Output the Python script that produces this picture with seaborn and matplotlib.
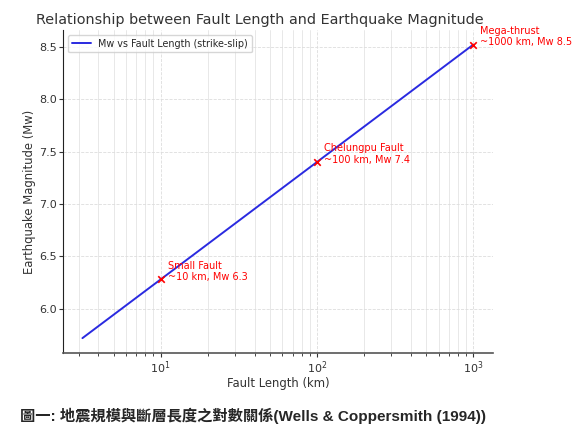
import numpy as np
import pandas as pd
import seaborn as sns
import matplotlib.pyplot as plt

# Data
fault_length_km = [3.16, 10, 100, 1000]
magnitude_mw = [5.72, 6.28, 7.40, 8.52]

event_names = ['Small Fault', 'Chelungpu Fault', 'Mega-thrust']
event_length_km = [10, 100, 1000]
event_mw = [6.28, 7.40, 8.52]
event_labels = ['~10 km, Mw 6.3', '~100 km, Mw 7.4', '~1000 km, Mw 8.5']

df = pd.DataFrame({'Length': fault_length_km, 'Mw': magnitude_mw})
events = pd.DataFrame({'Length': event_length_km, 'Mw': event_mw})

sns.set_style('ticks')
plt.rcParams['font.family'] = ['DejaVu Sans', 'Noto Sans CJK TC']

fig = plt.figure(figsize=(5.77, 4.41), dpi=100)
ax = fig.add_axes([0.109, 0.200, 0.745, 0.732])

sns.lineplot(data=df, x='Length', y='Mw', color='#2a2ae0', linewidth=1.4,
             label='Mw vs Fault Length (strike-slip)', ax=ax)
sns.scatterplot(data=events, x='Length', y='Mw', color='red', marker='x',
                s=22, linewidth=1.2, zorder=5, ax=ax)
ax.set_xscale('log')

for name, L, mw, lab in zip(event_names, event_length_km, event_mw, event_labels):
    ax.annotate(f'{name}\n{lab}', (L, mw), xytext=(5, -2), textcoords='offset points',
                color='red', fontsize=7, ha='left', va='bottom', annotation_clip=False)

ax.grid(True, which='major', linestyle='--', linewidth=0.6, color='#dddddd')
ax.grid(True, which='minor', axis='x', linestyle='-', linewidth=0.6, color='#e4e4e4')
ax.set_axisbelow(True)

ax.set_title('Relationship between Fault Length and Earthquake Magnitude',
             fontsize=10.4, color='#333333', x=0.458, pad=4)
ax.set_xlabel('Fault Length (km)', fontsize=8.4, color='#333333', labelpad=1)
ax.set_ylabel('Earthquake Magnitude (Mw)', fontsize=8.4, color='#333333', labelpad=2)
ax.tick_params(labelsize=8, colors='#333333', pad=1.5, length=3)
ax.tick_params(which='minor', length=2)
ax.set_yticks([6.0, 6.5, 7.0, 7.5, 8.0, 8.5])
sns.despine(ax=ax)
ax.spines['left'].set_color('#222222')
ax.spines['bottom'].set_color('#555555')
ax.spines['bottom'].set_linewidth(1.2)

ax.legend(loc='upper left', fontsize=6.9, frameon=True, handlelength=2)

fig.text(0.035, 0.045, '圖一: 地震規模與斷層長度之對數關係(Wells & Coppersmith (1994))',
         fontsize=11, fontweight='bold',
         family=['Liberation Sans', 'Noto Sans CJK TC'])

fig.savefig('out.png', dpi=100)
